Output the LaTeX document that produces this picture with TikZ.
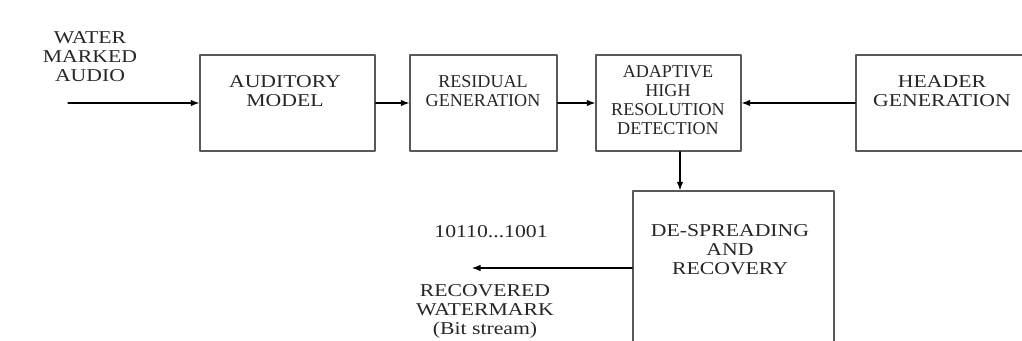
\documentclass[tikz,border=0pt]{standalone}
\usepackage{fontspec}
\setmainfont{Liberation Serif}
\newfontfamily\wijdfont[FakeStretch=1.2]{Liberation Serif}
\usetikzlibrary{arrows.meta,positioning}

\begin{document}
\begin{tikzpicture}[
    line cap=round,
    line join=round,
    blok/.style={
        draw=black!65,
        line width=0.8pt,
        fill=white,
        inner sep=0pt
    },
    tekst/.style={
        align=center,
        text=black!85,
        inner sep=0pt,
        font=\fontsize{10.3}{10.8}\selectfont
    },
    wijd/.style={
        tekst,
        font=\wijdfont\fontsize{10.3}{10.8}\selectfont
    },
    pijl/.style={
        line width=0.6pt,
        -{Latex[length=1.7mm,width=1.3mm]}
    }
]

% =================================================
% Kader
% =================================================

\useasboundingbox (0,0) rectangle (20.44,6.82);
\clip (0,0) rectangle (20.44,6.82);

% =================================================
% Blokken
% =================================================

% Bovenste rij
\node[blok, minimum width=3.5cm,  minimum height=1.92cm] (aud) at (5.75,4.76) {};
\node[blok, minimum width=2.94cm, minimum height=1.92cm] (res) at (9.67,4.76) {};
\node[blok, minimum width=2.9cm,  minimum height=1.92cm] (ada) at (13.37,4.76) {};
\node[blok, minimum width=3.5cm,  minimum height=1.92cm] (hdr) at (18.87,4.76) {};

% Onderste blok
\node[blok, minimum width=4.02cm, minimum height=3.08cm] (desp) at (14.67,1.46) {};

% =================================================
% Teksten
% =================================================

\node[wijd]  (wma)    at (1.80,5.68) {WATER\\MARKED\\AUDIO};
\node[wijd]  (audtxt) at (5.70,5.00) {AUDITORY\\MODEL};
\node[tekst] (restxt) at (9.66,5.00) {RESIDUAL\\GENERATION};
\node[tekst] (adatxt) at (13.36,4.82) {ADAPTIVE\\HIGH\\RESOLUTION\\DETECTION};
\node[wijd]  (hdrtxt) at (18.84,5.00) {HEADER\\GENERATION};
\node[wijd]  (desptxt) at (14.60,1.82) {DE-SPREADING\\AND\\RECOVERY};
\node[wijd]  (bits)   at (9.82,2.18) {10110...1001};
\node[wijd]  (rwm)    at (9.70,0.60) {RECOVERED\\WATERMARK\\(Bit stream)};

% =================================================
% Verbindingen
% =================================================

\coordinate (in)  at (1.36,4.76);
\coordinate (uit) at (9.44,1.46);

\draw[pijl] (in) -- (aud.west);
\draw[pijl] (aud.east) -- (res.west);
\draw[pijl] (res.east) -- (ada.west);
\draw[pijl] (hdr.west) -- (ada.east);
\draw[pijl] ([xshift=0.23cm]ada.south) -- ([xshift=0.23cm]ada.south |- desp.north);
\draw[pijl] (desp.west) -- (uit);

\end{tikzpicture}
\end{document}
